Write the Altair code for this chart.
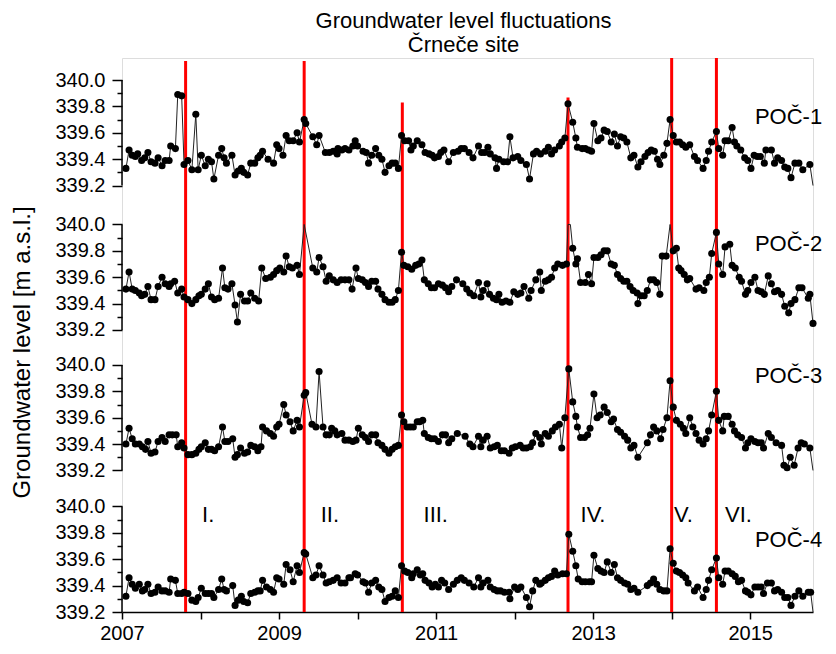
import altair as alt
import pandas as pd

# ---------------- data (year, level in m a.s.l.) ----------------
POC1 = [
    (2007.05, 339.33), (2007.09, 339.47), (2007.13, 339.43), (2007.17, 339.42), (2007.20, 339.44),
    (2007.25, 339.39), (2007.29, 339.41), (2007.33, 339.45), (2007.37, 339.38), (2007.42, 339.37),
    (2007.46, 339.41), (2007.51, 339.35), (2007.55, 339.39), (2007.60, 339.39), (2007.62, 339.50),
    (2007.68, 339.48), (2007.71, 339.89), (2007.76, 339.88), (2007.79, 339.36), (2007.84, 339.39),
    (2007.89, 339.32), (2007.94, 339.74), (2007.97, 339.32), (2008.01, 339.43), (2008.06, 339.35),
    (2008.10, 339.40), (2008.14, 339.38), (2008.17, 339.25), (2008.23, 339.43), (2008.27, 339.48),
    (2008.30, 339.41), (2008.33, 339.37), (2008.40, 339.43), (2008.44, 339.28), (2008.48, 339.31),
    (2008.52, 339.33), (2008.55, 339.30), (2008.60, 339.28), (2008.64, 339.37), (2008.69, 339.37),
    (2008.73, 339.41), (2008.76, 339.43), (2008.79, 339.46), (2008.86, 339.40), (2008.93, 339.37),
    (2008.97, 339.51), (2009.00, 339.48), (2009.05, 339.43), (2009.09, 339.58), (2009.13, 339.54),
    (2009.18, 339.54), (2009.23, 339.60), (2009.26, 339.53), (2009.32, 339.70), (2009.34, 339.67),
    (2009.43, 339.57), (2009.48, 339.51), (2009.51, 339.58), (2009.59, 339.45), (2009.64, 339.45),
    (2009.69, 339.46), (2009.74, 339.44), (2009.75, 339.48), (2009.80, 339.47), (2009.84, 339.48),
    (2009.89, 339.47), (2009.94, 339.50), (2009.97, 339.54), (2010.00, 339.50), (2010.07, 339.46),
    (2010.11, 339.45), (2010.14, 339.37), (2010.18, 339.43), (2010.23, 339.48), (2010.27, 339.43),
    (2010.31, 339.40), (2010.35, 339.30), (2010.40, 339.35), (2010.44, 339.37), (2010.48, 339.37),
    (2010.52, 339.33), (2010.56, 339.58), (2010.60, 339.54), (2010.65, 339.54), (2010.68, 339.47),
    (2010.71, 339.50), (2010.76, 339.54), (2010.82, 339.51), (2010.86, 339.45), (2010.91, 339.44),
    (2010.95, 339.43), (2010.98, 339.41), (2011.03, 339.42), (2011.06, 339.45), (2011.10, 339.47),
    (2011.16, 339.38), (2011.22, 339.45), (2011.28, 339.46), (2011.32, 339.48), (2011.36, 339.48),
    (2011.42, 339.45), (2011.47, 339.41), (2011.54, 339.50), (2011.58, 339.45), (2011.62, 339.45),
    (2011.66, 339.49), (2011.69, 339.44), (2011.75, 339.41), (2011.77, 339.33), (2011.80, 339.40),
    (2011.86, 339.38), (2011.91, 339.38), (2011.94, 339.57), (2011.98, 339.41), (2012.04, 339.42),
    (2012.08, 339.39), (2012.15, 339.36), (2012.19, 339.25), (2012.24, 339.44), (2012.28, 339.46),
    (2012.33, 339.44), (2012.39, 339.46), (2012.43, 339.49), (2012.47, 339.44), (2012.51, 339.47),
    (2012.57, 339.50), (2012.60, 339.53), (2012.64, 339.56), (2012.68, 339.82), (2012.74, 339.68),
    (2012.78, 339.56), (2012.80, 339.49), (2012.86, 339.48), (2012.90, 339.48), (2012.94, 339.47),
    (2012.98, 339.46), (2013.01, 339.67), (2013.06, 339.54), (2013.10, 339.56), (2013.14, 339.62),
    (2013.18, 339.61), (2013.23, 339.53), (2013.27, 339.59), (2013.31, 339.50), (2013.35, 339.57),
    (2013.39, 339.56), (2013.43, 339.53), (2013.48, 339.41), (2013.52, 339.43), (2013.57, 339.34),
    (2013.61, 339.38), (2013.66, 339.42), (2013.70, 339.45), (2013.74, 339.47), (2013.78, 339.46),
    (2013.82, 339.40), (2013.85, 339.36), (2013.90, 339.43), (2013.94, 339.52), (2013.98, 339.70),
    (2014.02, 339.58), (2014.06, 339.53), (2014.10, 339.53), (2014.14, 339.51), (2014.18, 339.49),
    (2014.23, 339.51), (2014.29, 339.42), (2014.33, 339.39), (2014.40, 339.33), (2014.44, 339.39),
    (2014.47, 339.46), (2014.51, 339.53), (2014.57, 339.61), (2014.60, 339.48), (2014.65, 339.43),
    (2014.68, 339.54), (2014.72, 339.54), (2014.77, 339.64), (2014.80, 339.53), (2014.83, 339.50),
    (2014.88, 339.47), (2014.93, 339.41), (2014.97, 339.39), (2015.01, 339.33), (2015.05, 339.43),
    (2015.09, 339.42), (2015.13, 339.42), (2015.18, 339.37), (2015.20, 339.47), (2015.27, 339.47),
    (2015.31, 339.37), (2015.35, 339.41), (2015.40, 339.39), (2015.44, 339.34), (2015.48, 339.33),
    (2015.52, 339.26), (2015.57, 339.37), (2015.62, 339.37), (2015.67, 339.32), (2015.76, 339.36),
    (2015.80, 339.20),
]

POC2 = [
    (2007.05, 339.51), (2007.09, 339.64), (2007.13, 339.51), (2007.17, 339.50), (2007.22, 339.48),
    (2007.25, 339.46), (2007.29, 339.47), (2007.33, 339.53), (2007.37, 339.43), (2007.42, 339.43),
    (2007.46, 339.53), (2007.51, 339.60), (2007.55, 339.55), (2007.60, 339.53), (2007.62, 339.55),
    (2007.67, 339.57), (2007.71, 339.48), (2007.76, 339.51), (2007.79, 339.45), (2007.84, 339.43),
    (2007.89, 339.40), (2007.94, 339.43), (2007.98, 339.46), (2008.01, 339.47), (2008.06, 339.51),
    (2008.10, 339.55), (2008.14, 339.45), (2008.18, 339.43), (2008.23, 339.44), (2008.28, 339.67),
    (2008.31, 339.52), (2008.35, 339.51), (2008.40, 339.55), (2008.44, 339.39), (2008.47, 339.26),
    (2008.51, 339.47), (2008.56, 339.42), (2008.60, 339.42), (2008.64, 339.48), (2008.69, 339.44),
    (2008.74, 339.42), (2008.78, 339.67), (2008.83, 339.59), (2008.89, 339.60), (2008.93, 339.62),
    (2008.97, 339.65), (2009.01, 339.67), (2009.06, 339.64), (2009.09, 339.76), (2009.13, 339.68),
    (2009.17, 339.67), (2009.23, 339.69), (2009.26, 339.62), (2009.32, 340.00), (2009.43, 339.67),
    (2009.48, 339.64), (2009.51, 339.75), (2009.56, 339.68), (2009.60, 339.57), (2009.64, 339.61),
    (2009.69, 339.58), (2009.74, 339.56), (2009.79, 339.58), (2009.84, 339.58), (2009.89, 339.58),
    (2009.93, 339.51), (2009.98, 339.67), (2010.01, 339.59), (2010.06, 339.58), (2010.10, 339.56),
    (2010.14, 339.53), (2010.18, 339.57), (2010.23, 339.57), (2010.26, 339.51), (2010.31, 339.47),
    (2010.35, 339.43), (2010.40, 339.41), (2010.44, 339.41), (2010.48, 339.43), (2010.52, 339.50),
    (2010.56, 339.79), (2010.59, 339.69), (2010.64, 339.68), (2010.69, 339.66), (2010.74, 339.69),
    (2010.78, 339.70), (2010.82, 339.73), (2010.85, 339.58), (2010.90, 339.55), (2010.94, 339.52),
    (2010.98, 339.52), (2011.03, 339.55), (2011.08, 339.54), (2011.12, 339.52), (2011.16, 339.49),
    (2011.20, 339.53), (2011.26, 339.58), (2011.34, 339.55), (2011.39, 339.51), (2011.43, 339.48),
    (2011.48, 339.46), (2011.54, 339.56), (2011.57, 339.45), (2011.60, 339.50), (2011.65, 339.55),
    (2011.68, 339.47), (2011.73, 339.44), (2011.77, 339.43), (2011.80, 339.47), (2011.84, 339.41),
    (2011.89, 339.42), (2011.94, 339.41), (2011.99, 339.49), (2012.04, 339.47), (2012.08, 339.48),
    (2012.12, 339.53), (2012.18, 339.44), (2012.21, 339.50), (2012.27, 339.58), (2012.32, 339.64),
    (2012.34, 339.50), (2012.39, 339.57), (2012.43, 339.58), (2012.47, 339.60), (2012.51, 339.67),
    (2012.55, 339.70), (2012.61, 339.69), (2012.66, 339.70), (2012.68, 340.00), (2012.71, 340.00),
    (2012.74, 339.82), (2012.78, 339.70), (2012.80, 339.74), (2012.84, 339.56), (2012.90, 339.56),
    (2012.94, 339.62), (2012.98, 339.55), (2013.01, 339.75), (2013.06, 339.75), (2013.10, 339.77),
    (2013.14, 339.80), (2013.18, 339.80), (2013.23, 339.70), (2013.27, 339.69), (2013.31, 339.62),
    (2013.35, 339.59), (2013.39, 339.57), (2013.43, 339.57), (2013.47, 339.53), (2013.51, 339.50),
    (2013.56, 339.48), (2013.57, 339.40), (2013.61, 339.46), (2013.65, 339.46), (2013.69, 339.50),
    (2013.73, 339.58), (2013.77, 339.58), (2013.81, 339.56), (2013.85, 339.47), (2013.88, 339.76),
    (2013.93, 339.76), (2013.98, 340.00), (2014.02, 339.80), (2014.06, 339.82), (2014.09, 339.67),
    (2014.12, 339.65), (2014.16, 339.62), (2014.20, 339.58), (2014.23, 339.59), (2014.31, 339.51),
    (2014.35, 339.52), (2014.41, 339.50), (2014.44, 339.56), (2014.48, 339.60), (2014.51, 339.78),
    (2014.57, 339.94), (2014.60, 339.70), (2014.65, 339.62), (2014.68, 339.83), (2014.74, 339.85),
    (2014.77, 339.69), (2014.81, 339.67), (2014.86, 339.60), (2014.89, 339.57), (2014.94, 339.47),
    (2014.97, 339.50), (2015.01, 339.56), (2015.06, 339.60), (2015.10, 339.50), (2015.14, 339.49),
    (2015.18, 339.47), (2015.23, 339.61), (2015.27, 339.55), (2015.31, 339.49), (2015.35, 339.50),
    (2015.40, 339.47), (2015.44, 339.38), (2015.49, 339.33), (2015.52, 339.40), (2015.57, 339.43),
    (2015.62, 339.52), (2015.66, 339.52), (2015.74, 339.44), (2015.76, 339.47), (2015.80, 339.25),
]

POC3 = [
    (2007.05, 339.40), (2007.09, 339.52), (2007.13, 339.44), (2007.17, 339.40), (2007.22, 339.40),
    (2007.26, 339.38), (2007.30, 339.36), (2007.33, 339.42), (2007.37, 339.33), (2007.42, 339.34),
    (2007.46, 339.42), (2007.51, 339.45), (2007.55, 339.42), (2007.60, 339.47), (2007.64, 339.47),
    (2007.69, 339.47), (2007.71, 339.38), (2007.76, 339.41), (2007.79, 339.37), (2007.84, 339.32),
    (2007.89, 339.32), (2007.94, 339.33), (2007.98, 339.36), (2008.01, 339.38), (2008.06, 339.41),
    (2008.10, 339.36), (2008.14, 339.36), (2008.18, 339.35), (2008.23, 339.38), (2008.28, 339.53),
    (2008.31, 339.42), (2008.35, 339.42), (2008.41, 339.44), (2008.44, 339.30), (2008.47, 339.32),
    (2008.51, 339.37), (2008.56, 339.33), (2008.60, 339.34), (2008.64, 339.39), (2008.69, 339.38),
    (2008.73, 339.35), (2008.77, 339.38), (2008.79, 339.53), (2008.84, 339.50), (2008.89, 339.48),
    (2008.93, 339.46), (2008.97, 339.53), (2009.00, 339.55), (2009.06, 339.70), (2009.09, 339.62),
    (2009.14, 339.57), (2009.18, 339.50), (2009.23, 339.58), (2009.26, 339.53), (2009.32, 339.77),
    (2009.34, 339.79), (2009.42, 339.55), (2009.47, 339.53), (2009.51, 339.95), (2009.56, 339.53),
    (2009.60, 339.47), (2009.64, 339.47), (2009.67, 339.52), (2009.71, 339.50), (2009.74, 339.47),
    (2009.80, 339.48), (2009.84, 339.43), (2009.89, 339.43), (2009.94, 339.42), (2009.98, 339.43),
    (2010.01, 339.52), (2010.06, 339.47), (2010.10, 339.45), (2010.14, 339.42), (2010.18, 339.47),
    (2010.23, 339.47), (2010.26, 339.41), (2010.31, 339.39), (2010.35, 339.36), (2010.40, 339.33),
    (2010.44, 339.36), (2010.48, 339.38), (2010.52, 339.39), (2010.56, 339.62), (2010.59, 339.57),
    (2010.63, 339.53), (2010.67, 339.53), (2010.71, 339.53), (2010.76, 339.57), (2010.79, 339.57),
    (2010.83, 339.58), (2010.85, 339.48), (2010.90, 339.45), (2010.94, 339.44), (2010.98, 339.44),
    (2011.03, 339.42), (2011.08, 339.47), (2011.12, 339.47), (2011.16, 339.41), (2011.20, 339.44),
    (2011.27, 339.48), (2011.37, 339.46), (2011.43, 339.40), (2011.47, 339.38), (2011.54, 339.46),
    (2011.57, 339.38), (2011.60, 339.43), (2011.65, 339.46), (2011.69, 339.37), (2011.74, 339.38),
    (2011.78, 339.39), (2011.83, 339.35), (2011.87, 339.35), (2011.93, 339.33), (2011.97, 339.37),
    (2012.01, 339.38), (2012.07, 339.39), (2012.11, 339.37), (2012.15, 339.37), (2012.20, 339.38),
    (2012.23, 339.41), (2012.27, 339.48), (2012.32, 339.45), (2012.34, 339.40), (2012.39, 339.48),
    (2012.43, 339.46), (2012.48, 339.50), (2012.52, 339.53), (2012.57, 339.55), (2012.60, 339.37),
    (2012.64, 339.60), (2012.69, 339.97), (2012.74, 339.72), (2012.78, 339.61), (2012.80, 339.53),
    (2012.84, 339.45), (2012.89, 339.45), (2012.93, 339.47), (2012.96, 339.52), (2013.01, 339.78),
    (2013.05, 339.60), (2013.09, 339.62), (2013.14, 339.68), (2013.18, 339.64), (2013.23, 339.57),
    (2013.26, 339.59), (2013.31, 339.51), (2013.35, 339.49), (2013.40, 339.46), (2013.44, 339.43),
    (2013.48, 339.37), (2013.52, 339.39), (2013.57, 339.30), (2013.69, 339.41), (2013.73, 339.47),
    (2013.77, 339.53), (2013.81, 339.50), (2013.86, 339.44), (2013.89, 339.51), (2013.94, 339.60),
    (2013.98, 339.88), (2014.02, 339.68), (2014.06, 339.58), (2014.11, 339.55), (2014.15, 339.52),
    (2014.18, 339.48), (2014.23, 339.60), (2014.27, 339.53), (2014.31, 339.48), (2014.35, 339.43),
    (2014.40, 339.40), (2014.44, 339.44), (2014.47, 339.50), (2014.51, 339.62), (2014.57, 339.80),
    (2014.60, 339.58), (2014.65, 339.50), (2014.67, 339.61), (2014.72, 339.61), (2014.77, 339.55),
    (2014.80, 339.50), (2014.84, 339.47), (2014.89, 339.45), (2014.94, 339.37), (2014.97, 339.41),
    (2015.01, 339.44), (2015.06, 339.42), (2015.10, 339.41), (2015.14, 339.41), (2015.17, 339.37),
    (2015.23, 339.48), (2015.27, 339.45), (2015.33, 339.41), (2015.40, 339.39), (2015.43, 339.24),
    (2015.47, 339.22), (2015.51, 339.30), (2015.56, 339.24), (2015.61, 339.37), (2015.65, 339.41),
    (2015.69, 339.40), (2015.76, 339.37), (2015.80, 339.20),
]

POC4 = [
    (2007.05, 339.32), (2007.09, 339.46), (2007.13, 339.41), (2007.17, 339.38), (2007.22, 339.41),
    (2007.26, 339.36), (2007.29, 339.37), (2007.33, 339.41), (2007.37, 339.34), (2007.42, 339.35),
    (2007.46, 339.39), (2007.51, 339.36), (2007.55, 339.36), (2007.60, 339.35), (2007.62, 339.45),
    (2007.68, 339.44), (2007.71, 339.34), (2007.76, 339.34), (2007.79, 339.35), (2007.84, 339.34),
    (2007.89, 339.29), (2007.94, 339.28), (2007.97, 339.31), (2008.01, 339.38), (2008.06, 339.34),
    (2008.10, 339.34), (2008.14, 339.34), (2008.17, 339.31), (2008.23, 339.37), (2008.27, 339.45),
    (2008.30, 339.37), (2008.33, 339.36), (2008.41, 339.40), (2008.44, 339.25), (2008.48, 339.29),
    (2008.52, 339.32), (2008.55, 339.28), (2008.60, 339.27), (2008.64, 339.34), (2008.69, 339.35),
    (2008.73, 339.36), (2008.76, 339.36), (2008.79, 339.44), (2008.84, 339.39), (2008.89, 339.37),
    (2008.93, 339.35), (2008.97, 339.46), (2009.00, 339.45), (2009.06, 339.41), (2009.09, 339.56),
    (2009.14, 339.52), (2009.18, 339.43), (2009.23, 339.55), (2009.26, 339.50), (2009.32, 339.65),
    (2009.34, 339.64), (2009.43, 339.46), (2009.47, 339.48), (2009.51, 339.55), (2009.56, 339.48),
    (2009.60, 339.42), (2009.64, 339.43), (2009.69, 339.44), (2009.74, 339.46), (2009.79, 339.42),
    (2009.84, 339.42), (2009.89, 339.46), (2009.91, 339.46), (2009.97, 339.49), (2010.00, 339.48),
    (2010.07, 339.43), (2010.10, 339.42), (2010.14, 339.35), (2010.18, 339.42), (2010.23, 339.44),
    (2010.27, 339.39), (2010.31, 339.37), (2010.35, 339.28), (2010.40, 339.31), (2010.44, 339.32),
    (2010.48, 339.36), (2010.52, 339.31), (2010.56, 339.55), (2010.60, 339.51), (2010.64, 339.50),
    (2010.69, 339.46), (2010.71, 339.49), (2010.76, 339.52), (2010.80, 339.48), (2010.83, 339.49),
    (2010.86, 339.44), (2010.91, 339.42), (2010.95, 339.39), (2010.99, 339.41), (2011.03, 339.39),
    (2011.07, 339.44), (2011.11, 339.42), (2011.16, 339.37), (2011.22, 339.41), (2011.27, 339.44),
    (2011.32, 339.46), (2011.36, 339.44), (2011.42, 339.42), (2011.48, 339.39), (2011.54, 339.46),
    (2011.57, 339.39), (2011.60, 339.42), (2011.66, 339.44), (2011.69, 339.39), (2011.74, 339.37),
    (2011.78, 339.36), (2011.82, 339.36), (2011.87, 339.35), (2011.93, 339.35), (2011.94, 339.30),
    (2012.00, 339.39), (2012.04, 339.37), (2012.08, 339.39), (2012.15, 339.31), (2012.19, 339.24),
    (2012.23, 339.36), (2012.27, 339.44), (2012.32, 339.41), (2012.34, 339.42), (2012.39, 339.44),
    (2012.43, 339.46), (2012.47, 339.47), (2012.51, 339.51), (2012.55, 339.48), (2012.61, 339.49),
    (2012.66, 339.49), (2012.69, 339.79), (2012.74, 339.66), (2012.78, 339.55), (2012.81, 339.45),
    (2012.86, 339.43), (2012.90, 339.43), (2012.95, 339.43), (2012.98, 339.43), (2013.01, 339.63),
    (2013.06, 339.53), (2013.10, 339.51), (2013.14, 339.50), (2013.18, 339.58), (2013.23, 339.50),
    (2013.27, 339.56), (2013.31, 339.46), (2013.35, 339.44), (2013.40, 339.42), (2013.44, 339.41),
    (2013.48, 339.37), (2013.52, 339.38), (2013.57, 339.35), (2013.69, 339.40), (2013.73, 339.42),
    (2013.77, 339.45), (2013.81, 339.41), (2013.85, 339.37), (2013.90, 339.36), (2013.94, 339.36),
    (2013.98, 339.68), (2014.02, 339.57), (2014.06, 339.51), (2014.10, 339.50), (2014.14, 339.48),
    (2014.18, 339.46), (2014.21, 339.42), (2014.29, 339.36), (2014.33, 339.39), (2014.40, 339.31),
    (2014.44, 339.37), (2014.47, 339.44), (2014.51, 339.52), (2014.57, 339.61), (2014.60, 339.46),
    (2014.65, 339.41), (2014.68, 339.51), (2014.72, 339.51), (2014.77, 339.49), (2014.81, 339.47),
    (2014.85, 339.43), (2014.89, 339.44), (2014.94, 339.36), (2014.97, 339.35), (2015.01, 339.33),
    (2015.06, 339.39), (2015.10, 339.39), (2015.14, 339.39), (2015.17, 339.34), (2015.22, 339.42),
    (2015.27, 339.42), (2015.31, 339.36), (2015.35, 339.37), (2015.40, 339.35), (2015.44, 339.31),
    (2015.48, 339.31), (2015.52, 339.25), (2015.57, 339.32), (2015.62, 339.36), (2015.67, 339.32),
    (2015.74, 339.35), (2015.77, 339.35), (2015.80, 339.20),
]

SERIES_NAMES = ["POČ-1", "POČ-2", "POČ-3", "POČ-4"]
SERIES_DATA = [POC1, POC2, POC3, POC4]

EVENT_YEARS = [2007.81, 2009.32, 2010.57, 2012.68, 2014.00, 2014.57]
PERIOD_LABELS = ["I.", "II.", "III.", "IV.", "V.", "VI."]
PERIOD_LABEL_YEARS = [2008.02, 2009.53, 2010.84, 2012.84, 2014.03, 2014.68]
X_TICK_YEARS = list(range(2007, 2016))

TITLE_LINES = ["Groundwater level fluctuations", "Črneče site"]
Y_TITLE = "Groundwater level [m a.s.l.]"

# ---------------- layout (stacked panels on one shared scale) ----------------
LOW, SPAN = 339.2, 0.8
PANEL_BASE = {"POČ-1": 3.233, "POČ-2": 2.138, "POČ-3": 1.073, "POČ-4": 0.0}
EVENT_TOPS = [4.177, 4.177, 3.862, 3.900, 4.2, 4.2]
NAME_POS = {"POČ-1": 3.754, "POČ-2": 2.787, "POČ-3": 1.790, "POČ-4": 0.544}
NAME_X = 2015.06
PERIOD_Y = 0.735
FONT = "Liberation Sans"

rows = []
for name, pts in zip(SERIES_NAMES, SERIES_DATA):
    for yr, lv in pts:
        rows.append({"series": name, "year": yr, "value": lv,
                     "yv": lv - LOW + PANEL_BASE[name]})
df = pd.DataFrame(rows)

df_events = pd.DataFrame({"year": EVENT_YEARS, "yv": [0.0] * len(EVENT_YEARS), "yv2": EVENT_TOPS})
df_axes = pd.DataFrame({"year": [2007.0] * 4,
                        "yv": [PANEL_BASE[n] for n in SERIES_NAMES],
                        "yv2": [PANEL_BASE[n] + SPAN for n in SERIES_NAMES]})
df_names = pd.DataFrame({"year": [NAME_X] * 4, "yv": [NAME_POS[n] for n in SERIES_NAMES],
                         "label": SERIES_NAMES})
df_periods = pd.DataFrame({"year": PERIOD_LABEL_YEARS, "yv": [PERIOD_Y] * 6, "label": PERIOD_LABELS})

y_ticks = []
for n in SERIES_NAMES:
    for k in range(9):
        y_ticks.append(round(PANEL_BASE[n] + k * 0.1, 4))

base_expr = "(datum.value > 3.0 ? 3.233 : datum.value > 1.9 ? 2.138 : datum.value > 0.9 ? 1.073 : 0)"
k_expr = f"round((datum.value - {base_expr}) * 10)"
y_label_expr = f"{k_expr} % 2 == 1 ? '' : format(339.2 + {k_expr} / 10, '.1f')"

x_scale = alt.Scale(domain=[2007, 2015.8], nice=False, zero=False)
y_scale = alt.Scale(domain=[0, 4.2], nice=False, zero=False)

x_axis = alt.Axis(values=X_TICK_YEARS, format="d",
                  labelExpr="datum.value % 2 == 1 ? datum.label : ''",
                  title="", grid=False, domainColor="black", domainWidth=1.5,
                  tickColor="black", tickWidth=1.5, tickSize=7,
                  labelFont=FONT, labelFontSize=20, labelColor="black", labelPadding=4,
                  labelFlush=False)
y_axis = alt.Axis(values=y_ticks, labelExpr=y_label_expr, grid=False, domain=False,
                  tickColor="black", tickWidth=1.5,
                  tickSize={"condition": {"test": f"{k_expr} % 2 == 1", "value": 5}, "value": 10},
                  labelFont=FONT, labelFontSize=20, labelColor="black", labelPadding=7,
                  title=Y_TITLE, titleFont=FONT, titleFontSize=24, titleFontWeight="normal",
                  titleColor="black", titleAngle=270, titleX=-100, titleY=294,
                  titleAlign="center", titleBaseline="middle")

X = alt.X("year:Q", scale=x_scale, axis=x_axis)
Y = alt.Y("yv:Q", scale=y_scale, axis=y_axis)

events = alt.Chart(df_events).mark_rule(color="#ff0000", strokeWidth=3).encode(
    x=X, y=Y, y2="yv2:Q")
axes = alt.Chart(df_axes).mark_rule(color="black", strokeWidth=1.5).encode(
    x=X, y=Y, y2="yv2:Q")
lines = alt.Chart(df).mark_line(color="#222222", strokeWidth=1).encode(
    x=X, y=Y, detail="series:N", order="year:Q")
points = alt.Chart(df).transform_filter(
    "datum.value > 339.2 && datum.value < 340.0").mark_circle(
    size=50, color="black", opacity=1).encode(x=X, y=Y, detail="series:N")
names = alt.Chart(df_names).mark_text(align="left", baseline="middle", font=FONT,
                                      fontSize=22, color="black").encode(
    x=X, y=Y, text="label:N")
periods = alt.Chart(df_periods).mark_text(align="left", baseline="middle", font=FONT,
                                          fontSize=22, color="black").encode(
    x=X, y=Y, text="label:N")

chart = alt.layer(events, axes, lines, points, names, periods).properties(
    width=691, height=554,
    title=alt.TitleParams(text=TITLE_LINES, font=FONT, fontSize=22, fontWeight="normal",
                          color="black", lineHeight=24, offset=0, anchor="middle",
                          frame="group", dx=-4),
    autosize=alt.AutoSizeParams(type="none"),
    padding={"left": 114, "top": 50, "right": 15, "bottom": 33},
).configure_view(stroke="transparent").configure(background="white")

chart.save("out.html", embed_options={"renderer": "svg", "actions": False})
